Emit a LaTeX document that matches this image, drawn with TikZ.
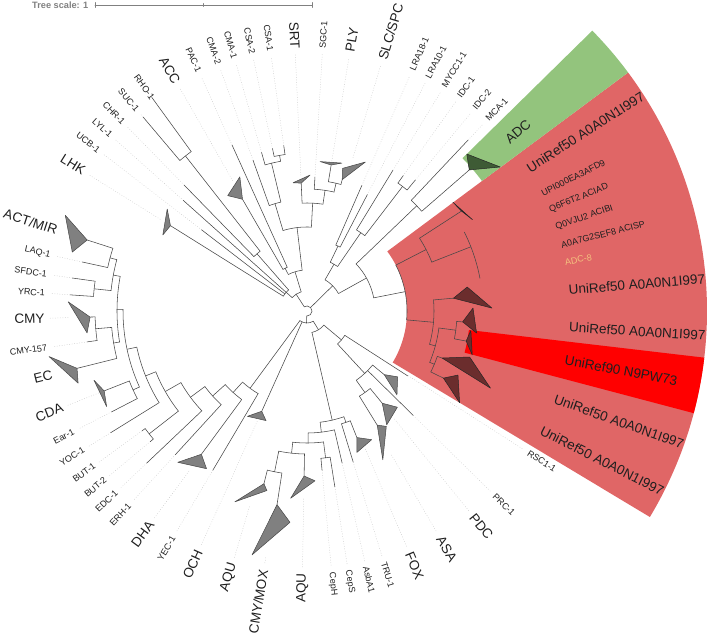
\documentclass[tikz,border=0pt]{standalone}
\usepackage{fontspec}
\setmainfont{Liberation Sans}
\definecolor{secR}{HTML}{E06666}
\definecolor{secG}{HTML}{93C47D}
\definecolor{secB}{HTML}{FF0000}
\definecolor{triR}{HTML}{6B2D2D}
\definecolor{triG}{HTML}{3E5B35}
\definecolor{adco}{HTML}{F4C27F}
\tikzset{
  br/.style={draw=black!72, line width=0.55pt},
  tri/.style={fill=black!50, draw=black!72, line width=0.5pt},
  trir/.style={fill=triR, draw=black!85, line width=0.5pt},
  trig/.style={fill=triG, draw=black!85, line width=0.5pt},
  lab/.style={inner sep=0.5pt, text=black!88},
  big/.style={font=\fontsize{13.5}{14}\selectfont},
  small/.style={font=\fontsize{9}{10}\selectfont},
  guide/.style={draw=black!20, dotted, line width=0.5pt},
}
\newcommand\tbr[3]{\draw[br] (#1:#2pt) -- (#1:#3pt);}
\newcommand\tarc[3]{\draw[br] (#2:#1pt) arc[start angle=#2, end angle=#3, radius=#1pt];}
\newcommand\ttri[7][tri]{\filldraw[#1] (#2:#3pt) -- (#4:#5pt) -- (#6:#7pt) -- cycle;}
\newcommand\labR[4][small]{\node[lab,small,#1,anchor=west,rotate=#2] (#3) at (#2:262pt) {#4};}
\newcommand\labL[4][small]{\node[lab,small,#1,anchor=east,rotate=#2+180] (#3) at (#2:262pt) {#4};}
\newcommand\gline[2]{\draw[guide] (#1:#2pt) -- (#1:257pt);}
\begin{document}
\begin{tikzpicture}[x=1pt,y=1pt,line cap=round,line join=round]
\useasboundingbox (0,0) rectangle (708,637);
% tree scale
\node[font=\bfseries\fontsize{9.2}{10}\selectfont, text=black!50, anchor=west, inner sep=0] (ts) at (32,632) {Tree scale: 1};
\coordinate (s0) at (95,632);
\coordinate (s1) at (312,632);
\draw[black!50, line width=0.6pt] (s0) -- (s1);
\draw[black!50, line width=0.6pt] (95,629.5) -- (95,634.5) (312,629.5) -- (312,634.5) (203,630.5) -- (203,633.5);

\begin{scope}[shift={(307,326)}]
% coloured ranges
\fill[secR] (-31:100pt) arc[start angle=-31, end angle=36.6, radius=100pt] -- (36.6:400pt) arc[start angle=36.6, end angle=-31, radius=400pt] -- cycle;
\fill[secG] (36.6:218pt) arc[start angle=36.6, end angle=44.5, radius=218pt] -- (44.5:400pt) arc[start angle=44.5, end angle=36.6, radius=400pt] -- cycle;
\fill[secB] (-14.8:163pt) arc[start angle=-14.8, end angle=-6.7, radius=163pt] -- (-6.7:400pt) arc[start angle=-6.7, end angle=-14.8, radius=400pt] -- cycle;

% guide lines
\foreach \a/\r in {130.2/254,134.3/176,138.2/166,142.4/133,148/173,167.7/230,172/237,176.1/237.5,181.6/239,188/222,201.5/224,207.3/220,211.8/231,216/204,219.8/204,223.5/221,227.5/195,233.6/199,239.4/185,245.7/121,253.6/204,260.5/250,269/188,-84.6/160,-81/178,-77/156,-73/158,-67.1/150,-59.6/167,-51/139,-44.5/149,-32.6/120,46.7/235,50.4/170,54.6/166,58.6/165,62.6/131,66.4/137,73.3/160,80.6/152,86.6/134,92.6/136,98/167,102/166,106/165,109.7/160,114.3/182,119.7/150}{\gline{\a}{\r}}

% root
\tarc{5}{-92.5}{123}
\tbr{-92.5}{5}{12}
\tarc{12}{-126.4}{-58.5}
\tbr{44.5}{5}{36}
\tbr{123}{5}{20}

% top-left group
\tarc{20}{107}{138}
\tbr{138}{20}{28}
\tarc{28}{131.15}{148}
\tbr{131.15}{28}{76}
\tarc{76}{128.1}{134.3}
\tbr{128.1}{76}{197}
\tarc{197}{126}{130.2}
\tbr{126}{197}{264}
\tbr{130.2}{197}{254}
\tbr{134.3}{76}{176}
\tbr{138.2}{28}{166}
\tbr{142.4}{28}{133}
\tbr{148}{28}{161}
\ttri{148}{161}{143.9}{173}{152.2}{163}

% ACC / CMA / SRT group
\tbr{107}{20}{41}
\tarc{41}{96.8}{117.1}
\tbr{117.1}{41}{48}
\tarc{48}{114.3}{120}
\tbr{114.3}{48}{182}
\tbr{120}{48}{129}
\ttri{120}{129}{116.6}{150}{124.5}{140}
\tbr{96.8}{41}{84}
\tarc{84}{87}{106.6}
\tbr{106.6}{84}{112}
\tarc{112}{103.5}{109.7}
\tbr{109.7}{112}{160}
\tbr{103.5}{112}{152}
\tarc{152}{100}{106}
\tbr{106}{152}{165}
\tbr{100}{152}{158}
\tarc{158}{98}{102}
\tbr{102}{158}{166}
\tbr{98}{158}{167}
\tbr{87}{84}{108}
\tarc{108}{81.5}{92.6}
\tbr{92.6}{108}{128}
\ttri{92.6}{128}{96.2}{129}{88.7}{136}
\tbr{81.5}{108}{122}
\tarc{122}{77.2}{86.6}
\tbr{86.6}{122}{134}
\tbr{77.2}{122}{131}
\tarc{131}{75}{80.6}
\tbr{80.6}{131}{148}
\ttri{80.6}{148}{85}{150}{76.7}{152}
\tbr{75}{131}{136}
\ttri{75}{136}{76}{147}{68.6}{160}

% right group
\tarc{36}{29}{60}
\tbr{60}{36}{54}
\tarc{54}{55.5}{64.5}
\tbr{64.5}{54}{72}
\tarc{72}{62.6}{66.4}
\tbr{66.4}{72}{137}
\tbr{62.6}{72}{131}
\tbr{55.5}{54}{95}
\tarc{95}{52.5}{58.6}
\tbr{58.6}{95}{165}
\tbr{52.5}{95}{157}
\tarc{157}{50.4}{54.6}
\tbr{54.6}{157}{166}
\tbr{50.4}{157}{170}
\tbr{29}{36}{68}
\tarc{68}{11.15}{43.8}
\tbr{43.8}{68}{152}
\tarc{152}{41}{46.7}
\tbr{46.7}{152}{235}
\tbr{41}{152}{215}
\ttri[trig]{41}{215}{44.5}{224}{36.7}{241}
\tbr{11.15}{68}{100}
\tarc{100}{-5.1}{27.3}
\tbr{27.3}{100}{134}
\tarc{134}{21.4}{32.9}
\tbr{32.9}{134}{184}
\ttri[trir]{32.9}{184}{36.7}{182}{28.9}{189}
\tbr{21.4}{134}{176}
\tarc{176}{10.7}{26.6}
\tbr{-5.1}{100}{127}
\tarc{127}{-15.2}{5}
\tbr{5}{127}{147}
\ttri[trir]{5}{147}{8.5}{162}{0.9}{185}
\tbr{-15.2}{127}{133}
\tarc{133}{-22.7}{-7.35}
\tbr{-7.35}{133}{150}
\tarc{150}{-10.7}{-4}
\tbr{-4}{150}{156}
\ttri[trir]{-4}{156}{1}{166}{-7.4}{171}
\tbr{-10.7}{150}{162}
\ttri[trir]{-10.7}{162}{-6.8}{165}{-14.9}{171}
\tbr{-22.7}{133}{138}
\tarc{138}{-26.2}{-19.2}
\tbr{-19.2}{138}{143}
\ttri[trir]{-19.2}{143}{-15.8}{169}{-22.8}{199}
\tbr{-26.2}{138}{152}
\ttri[trir]{-26.2}{152}{-23}{164}{-31}{178}

% bottom-right group
\tbr{-58.5}{12}{22}
\tarc{22}{-77}{-40}
\tbr{-40}{22}{45}
\tarc{45}{-47.25}{-32.8}
\tbr{-32.8}{45}{120}
\tbr{-47.25}{45}{85}
\tarc{85}{-54.6}{-39.5}
\tbr{-39.5}{85}{100}
\ttri{-39.5}{100}{-36}{112}{-43}{123}
\tbr{-44.5}{85}{149}
\tbr{-54.6}{85}{100}
\tarc{100}{-58.4}{-50.8}
\tbr{-50.8}{100}{119}
\ttri{-50.8}{119}{-46.8}{132}{-55}{139}
\tbr{-58.4}{100}{134}
\ttri{-58.4}{134}{-55.5}{140}{-63}{167}
\tbr{-77}{22}{112}
\tarc{112}{-83.25}{-70.75}
\tbr{-70.75}{112}{118}
\tarc{118}{-73}{-68.5}
\tbr{-68.5}{118}{136}
\ttri{-68.5}{136}{-63.3}{144}{-70.6}{150}
\tbr{-73}{118}{158}
\tbr{-83.25}{112}{122}
\tarc{122}{-89.5}{-77}
\tbr{-77}{122}{156}
\tbr{-89.5}{122}{132}
\tarc{132}{-96.2}{-82.8}
\tbr{-82.8}{132}{148}
\tarc{148}{-84.6}{-81}
\tbr{-81}{148}{178}
\tbr{-84.6}{148}{160}
\tbr{-96.2}{132}{143}
\tarc{143}{-101.4}{-91}
\tbr{-91}{143}{165}
\ttri{-91}{165}{-87.3}{170}{-95}{188}
\tbr{-101.4}{143}{164}
\tarc{164}{-104}{-98.8}
\tbr{-98.8}{164}{196}
\ttri{-98.8}{196}{-94.6}{212}{-102.7}{250}
\tbr{-104}{164}{178}
\ttri{-104}{178}{-102.6}{184}{-110.7}{204}

% OCH
\tbr{-114.3}{12}{110}
\ttri{-114.3}{110}{-110.5}{117}{-119.5}{121}

% bottom-left and left group
\tbr{-126.4}{12}{96}
\tarc{96}{227.8}{239.4}
\tbr{239.4}{96}{185}
\tbr{227.8}{96}{110}
\tarc{110}{222}{233.6}
\tbr{233.6}{110}{178}
\ttri{233.6}{178}{237.5}{187}{229.5}{199}
\tbr{222}{110}{127}
\tarc{127}{216.5}{227.5}
\tbr{227.5}{127}{195}
\tbr{216.5}{127}{145}
\tarc{145}{209.6}{223.5}
\tbr{223.5}{145}{221}
\tbr{209.6}{145}{163}
\tarc{163}{201.9}{217.9}
\tbr{217.9}{163}{200}
\tarc{200}{216}{219.8}
\tbr{216}{200}{204}
\tbr{219.8}{200}{204}
\tbr{201.9}{163}{174}
\tarc{174}{192}{211.8}
\tbr{211.8}{174}{231}
\tbr{192}{174}{184}
\tarc{184}{179.5}{204.4}
\tbr{204.4}{184}{191}
\tarc{191}{201.5}{207.3}
\tbr{207.3}{191}{220}
\tbr{201.5}{191}{218}
\ttri{201.5}{218}{198}{224}{205.5}{222}
\tbr{179.5}{184}{190}
\tarc{190}{169.5}{189.4}
\tbr{189.4}{190}{196}
\tarc{196}{184.8}{194}
\tbr{194}{196}{237}
\ttri{194}{237}{190}{262}{197.5}{240}
\tbr{184.8}{196}{212}
\tarc{212}{181.6}{188}
\tbr{181.6}{212}{217}
\ttri{181.6}{217}{177.8}{239}{185.7}{221}
\tbr{188}{212}{222}
\tbr{169.5}{190}{197}
\tarc{197}{164.9}{174.05}
\tbr{174.05}{197}{214}
\tarc{214}{172}{176.1}
\tbr{172}{214}{237}
\tbr{176.1}{214}{237.5}
\tbr{164.9}{197}{204}
\tarc{204}{162.1}{167.7}
\tbr{167.7}{204}{230}
\tbr{162.1}{204}{231}
\ttri{162.1}{231}{158.4}{260}{165.9}{242}

% labels
\labL{126}{lRHO}{RHO-1}
\labL{130.2}{lSUC}{SUC-1}
\labL{134.3}{lCHR}{CHR-1}
\labL{138.2}{lLYL}{LYL-1}
\labL{142.4}{lUCB}{UCB-1}
\labL[big]{148}{lLHK}{LHK}
\labL[big]{162.1}{lACT}{ACT/MIR}
\labL{167.7}{lLAQ}{LAQ-1}
\labL{172}{lSFDC}{SFDC-1}
\labL{176.1}{lYRC}{YRC-1}
\labL[big]{181.6}{lCMY}{CMY}
\labL{188}{lCMYa}{CMY-157}
\labL[big]{194}{lEC}{EC}
\labL[big]{201.5}{lCDA}{CDA}
\labL{207.3}{lEar}{Ear-1}
\labL{211.8}{lYOC}{YOC-1}
\labL{216}{lBUTa}{BUT-1}
\labL{219.8}{lBUTb}{BUT-2}
\labL{223.5}{lEDC}{EDC-1}
\labL{227.5}{lERH}{ERH-1}
\labL[big]{233.6}{lDHA}{DHA}
\labL{239.4}{lYEC}{YEC-1}
\labL[big]{245.7}{lOCH}{OCH}
\labL[big]{253.6}{lAQUb}{AQU}
\labL[big]{260.5}{lCMYMOX}{CMY/MOX}
\labL[big]{269}{lAQUa}{AQU}
\labR{-84.6}{lCepH}{CepH}
\labR{-81}{lCepS}{CepS}
\labR{-77}{lAsbA}{AsbA1}
\labR{-73}{lTRU}{TRU-1}
\labR[big]{-67.1}{lFOX}{FOX}
\labR[big]{-59.6}{lASA}{ASA}
\labR[big]{-51}{lPDC}{PDC}
\labR{-44.5}{lPRC}{PRC-1}
\labR{-32.6}{lRSC}{RSC1-1}
\labR[big]{-26.9}{lUe}{UniRef50 A0A0N1I997}
\labR[big]{-19.5}{lUd}{UniRef50 A0A0N1I997}
\labR[big]{-10.7}{lUn}{UniRef90 N9PW73}
\labR[big]{-3.5}{lUc}{UniRef50 A0A0N1I997}
\labR[big]{4.6}{lUb}{UniRef50 A0A0N1I997}
\labR[text=adco]{10.7}{lADCe}{ADC-8}
\labR{14.5}{lAzA}{A0A7G2SEF8 ACISP}
\labR{18.6}{lQzV}{Q0VJU2 ACIBI}
\labR{22.5}{lQsF}{Q6F6T2 ACIAD}
\labR{26.6}{lUPI}{UPI000EA3AFD9}
\labR[big]{32.7}{lUa}{UniRef50 A0A0N1I997}
\labR[big]{40.4}{lADC}{ADC}
\labR{46.7}{lMCA}{MCA-1}
\labR{50.4}{lIDCb}{IDC-2}
\labR{54.6}{lIDCa}{IDC-1}
\labR{58.6}{lMYCC}{MYCC1-1}
\labR{62.6}{lLRAb}{LRA10-1}
\labR{66.4}{lLRAa}{LRA18-1}
\labR[big]{73.3}{lSLC}{SLC/SPC}
\labR[big]{80.6}{lPLY}{PLY}
\labR{86.6}{lSGC}{SGC-1}
\labL[big]{92.6}{lSRT}{SRT}
\labL{98}{lCSAa}{CSA-1}
\labL{102}{lCSAb}{CSA-2}
\labL{106}{lCMAa}{CMA-1}
\labL{109.7}{lCMAb}{CMA-2}
\labL{114.3}{lPAC}{PAC-1}
\labL[big]{119.7}{lACC}{ACC}
\end{scope}
\end{tikzpicture}
\end{document}
